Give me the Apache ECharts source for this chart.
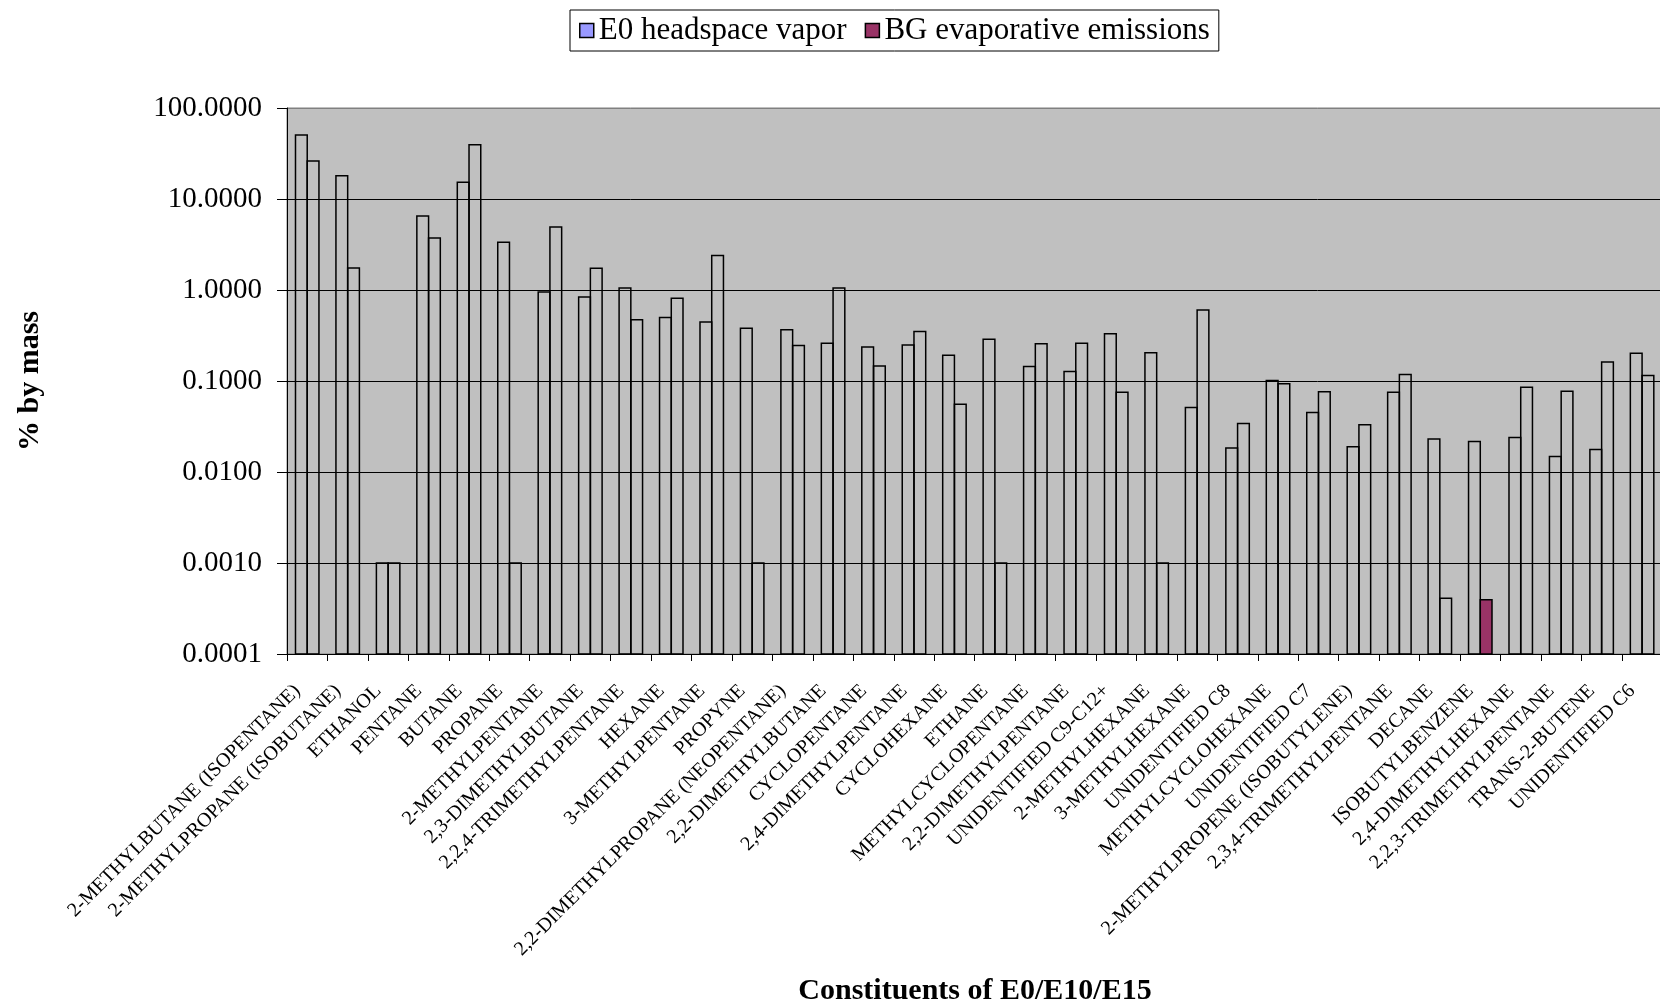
<!DOCTYPE html>
<html>
<head>
<meta charset="utf-8">
<script src="https://cdn.jsdelivr.net/npm/echarts@6/dist/echarts.min.js"></script>
<style>
  html, body { margin: 0; padding: 0; background: #ffffff; }
  #chart { width: 1660px; height: 1005px; }
</style>
</head>
<body>
<div id="chart"></div>
<script>
// Constituents, in the order they are plotted
const categories = [
  '2-METHYLBUTANE (ISOPENTANE)', '2-METHYLPROPANE (ISOBUTANE)', 'ETHANOL', 'PENTANE', 'BUTANE',
  'PROPANE', '2-METHYLPENTANE', '2,3-DIMETHYLBUTANE', '2,2,4-TRIMETHYLPENTANE', 'HEXANE',
  '3-METHYLPENTANE', 'PROPYNE', '2,2-DIMETHYLPROPANE (NEOPENTANE)', '2,2-DIMETHYLBUTANE', 'CYCLOPENTANE',
  '2,4-DIMETHYLPENTANE', 'CYCLOHEXANE', 'ETHANE', 'METHYLCYCLOPENTANE', '2,2-DIMETHYLPENTANE',
  'UNIDENTIFIED C9-C12+', '2-METHYLHEXANE', '3-METHYLHEXANE', 'UNIDENTIFIED C8', 'METHYLCYCLOHEXANE',
  'UNIDENTIFIED C7', '2-METHYLPROPENE (ISOBUTYLENE)', '2,3,4-TRIMETHYLPENTANE', 'DECANE', 'ISOBUTYLBENZENE',
  '2,4-DIMETHYLHEXANE', '2,2,3-TRIMETHYLPENTANE', 'TRANS-2-BUTENE', 'UNIDENTIFIED C6'
];

const seriesNames = ['E0 headspace vapor', 'BG evaporative emissions'];

// % by mass
const e0Headspace = [
  50.4, 18.0, 0.001, 6.5, 15.3,
  3.35, 0.95, 0.84, 1.05, 0.50,
  0.445, 0.38, 0.365, 0.26, 0.236,
  0.248, 0.192, 0.288, 0.144, 0.127,
  0.33, 0.204, 0.0512, 0.0183, 0.101,
  0.045, 0.0189, 0.0753, 0.0230, 0.0216,
  0.0239, 0.0148, 0.0177, 0.202
];

const bgEvaporative = [
  26.2, 1.75, 0.001, 3.73, 39.5,
  0.001, 4.93, 1.73, 0.47, 0.81,
  2.39, 0.001, 0.245, 1.05, 0.146,
  0.349, 0.0557, 0.001, 0.256, 0.26,
  0.0753, 0.001, 0.604, 0.0341, 0.093,
  0.076, 0.033, 0.118, 0.00041, 0.000395,
  0.0855, 0.0773, 0.162, 0.115
];

// Log axis range (decades)
const yMin = 0.0001;
const yMax = 100;

// ---- styling ----
const SERIF = '"Liberation Serif", "Times New Roman", "DejaVu Serif", serif';
const legendColors = ['#9999ff', '#993366'];
const plotGray = '#c0c0c0';
const BAR_FRACTION = 0.29;           // width of one bar as a share of the category band
const filledBars = { 1: ['ISOBUTYLBENZENE'] };  // bars drawn with their series colour

function barRenderer(slot) {
  return function (params, api) {
    const i = api.value(0);
    const v = api.value(1);
    const top = api.coord([i, v]);
    const base = api.coord([i, yMin]);
    const band = api.size([1, 0])[0];
    const w = band * BAR_FRACTION;
    const x = slot === 0 ? top[0] - w : top[0];
    const filled = (filledBars[slot] || []).indexOf(categories[i]) >= 0;
    return {
      type: 'rect',
      shape: { x: x, y: top[1], width: w, height: base[1] - top[1] },
      style: {
        fill: filled ? legendColors[slot] : 'rgba(0,0,0,0)',
        stroke: '#000000',
        lineWidth: 1.5
      }
    };
  };
}

const chart = echarts.init(document.getElementById('chart'), null, { renderer: 'canvas' });

chart.setOption({
  animation: false,
  backgroundColor: '#ffffff',
  textStyle: { fontFamily: SERIF, color: '#000000' },
  legend: {
    left: 570,
    top: 10,
    padding: [5, 9],
    itemGap: 18,
    itemWidth: 14,
    itemHeight: 14,
    icon: 'rect',
    borderColor: '#000000',
    borderWidth: 1,
    backgroundColor: '#ffffff',
    textStyle: { fontFamily: SERIF, fontSize: 31, color: '#000000' },
    data: seriesNames.map((n, k) => ({
      name: n,
      itemStyle: { color: legendColors[k], borderColor: '#000000', borderWidth: 1.5 }
    }))
  },
  grid: {
    left: 287,
    top: 108,
    width: 1375.3,
    height: 546,
    show: true,
    backgroundColor: plotGray,
    borderColor: '#808080',
    borderWidth: 1,
    containLabel: false,
    outerBoundsMode: 'none'
  },
  xAxis: {
    type: 'category',
    data: categories,
    boundaryGap: true,
    axisLine: { show: true, lineStyle: { color: '#000000', width: 1 } },
    axisTick: { show: true, length: 7, lineStyle: { color: '#000000', width: 1 } },
    axisLabel: {
      interval: 0,
      rotate: 45,
      margin: 24,
      padding: [0, 14, 0, 0],
      fontFamily: SERIF,
      fontSize: 20,
      color: '#000000'
    },
    splitLine: { show: false }
  },
  yAxis: {
    type: 'log',
    logBase: 10,
    min: yMin,
    max: yMax,
    splitNumber: 6,
    axisLine: { show: true, lineStyle: { color: '#000000', width: 1 } },
    axisTick: { show: true, length: 10, lineStyle: { color: '#000000', width: 1 } },
    axisLabel: {
      margin: 25,
      fontFamily: SERIF,
      fontSize: 29,
      color: '#000000',
      formatter: function (v) { return Number(v).toFixed(4); }
    },
    splitLine: {
      show: true,
      lineStyle: { color: ['#000000', '#000000', '#000000', '#000000', '#000000', '#000000', '#808080'], width: 1 }
    }
  },
  series: [
    {
      name: seriesNames[0],
      type: 'custom',
      itemStyle: { color: legendColors[0], borderColor: '#000000', borderWidth: 1.5 },
      renderItem: barRenderer(0),
      encode: { x: 0, y: 1 },
      data: e0Headspace.map((v, i) => [i, v])
    },
    {
      name: seriesNames[1],
      type: 'custom',
      itemStyle: { color: legendColors[1], borderColor: '#000000', borderWidth: 1.5 },
      renderItem: barRenderer(1),
      encode: { x: 0, y: 1 },
      data: bgEvaporative.map((v, i) => [i, v])
    }
  ],
  graphic: [
    {
      type: 'text',
      x: 30,
      y: 381,
      rotation: Math.PI / 2,
      style: {
        text: '% by mass',
        font: 'bold 30px ' + SERIF,
        fill: '#000000',
        textAlign: 'center',
        textVerticalAlign: 'middle'
      }
    },
    {
      type: 'text',
      x: 975,
      y: 991,
      style: {
        text: 'Constituents of E0/E10/E15',
        font: 'bold 30px ' + SERIF,
        fill: '#000000',
        textAlign: 'center',
        textVerticalAlign: 'middle'
      }
    }
  ]
});
</script>
</body>
</html>
